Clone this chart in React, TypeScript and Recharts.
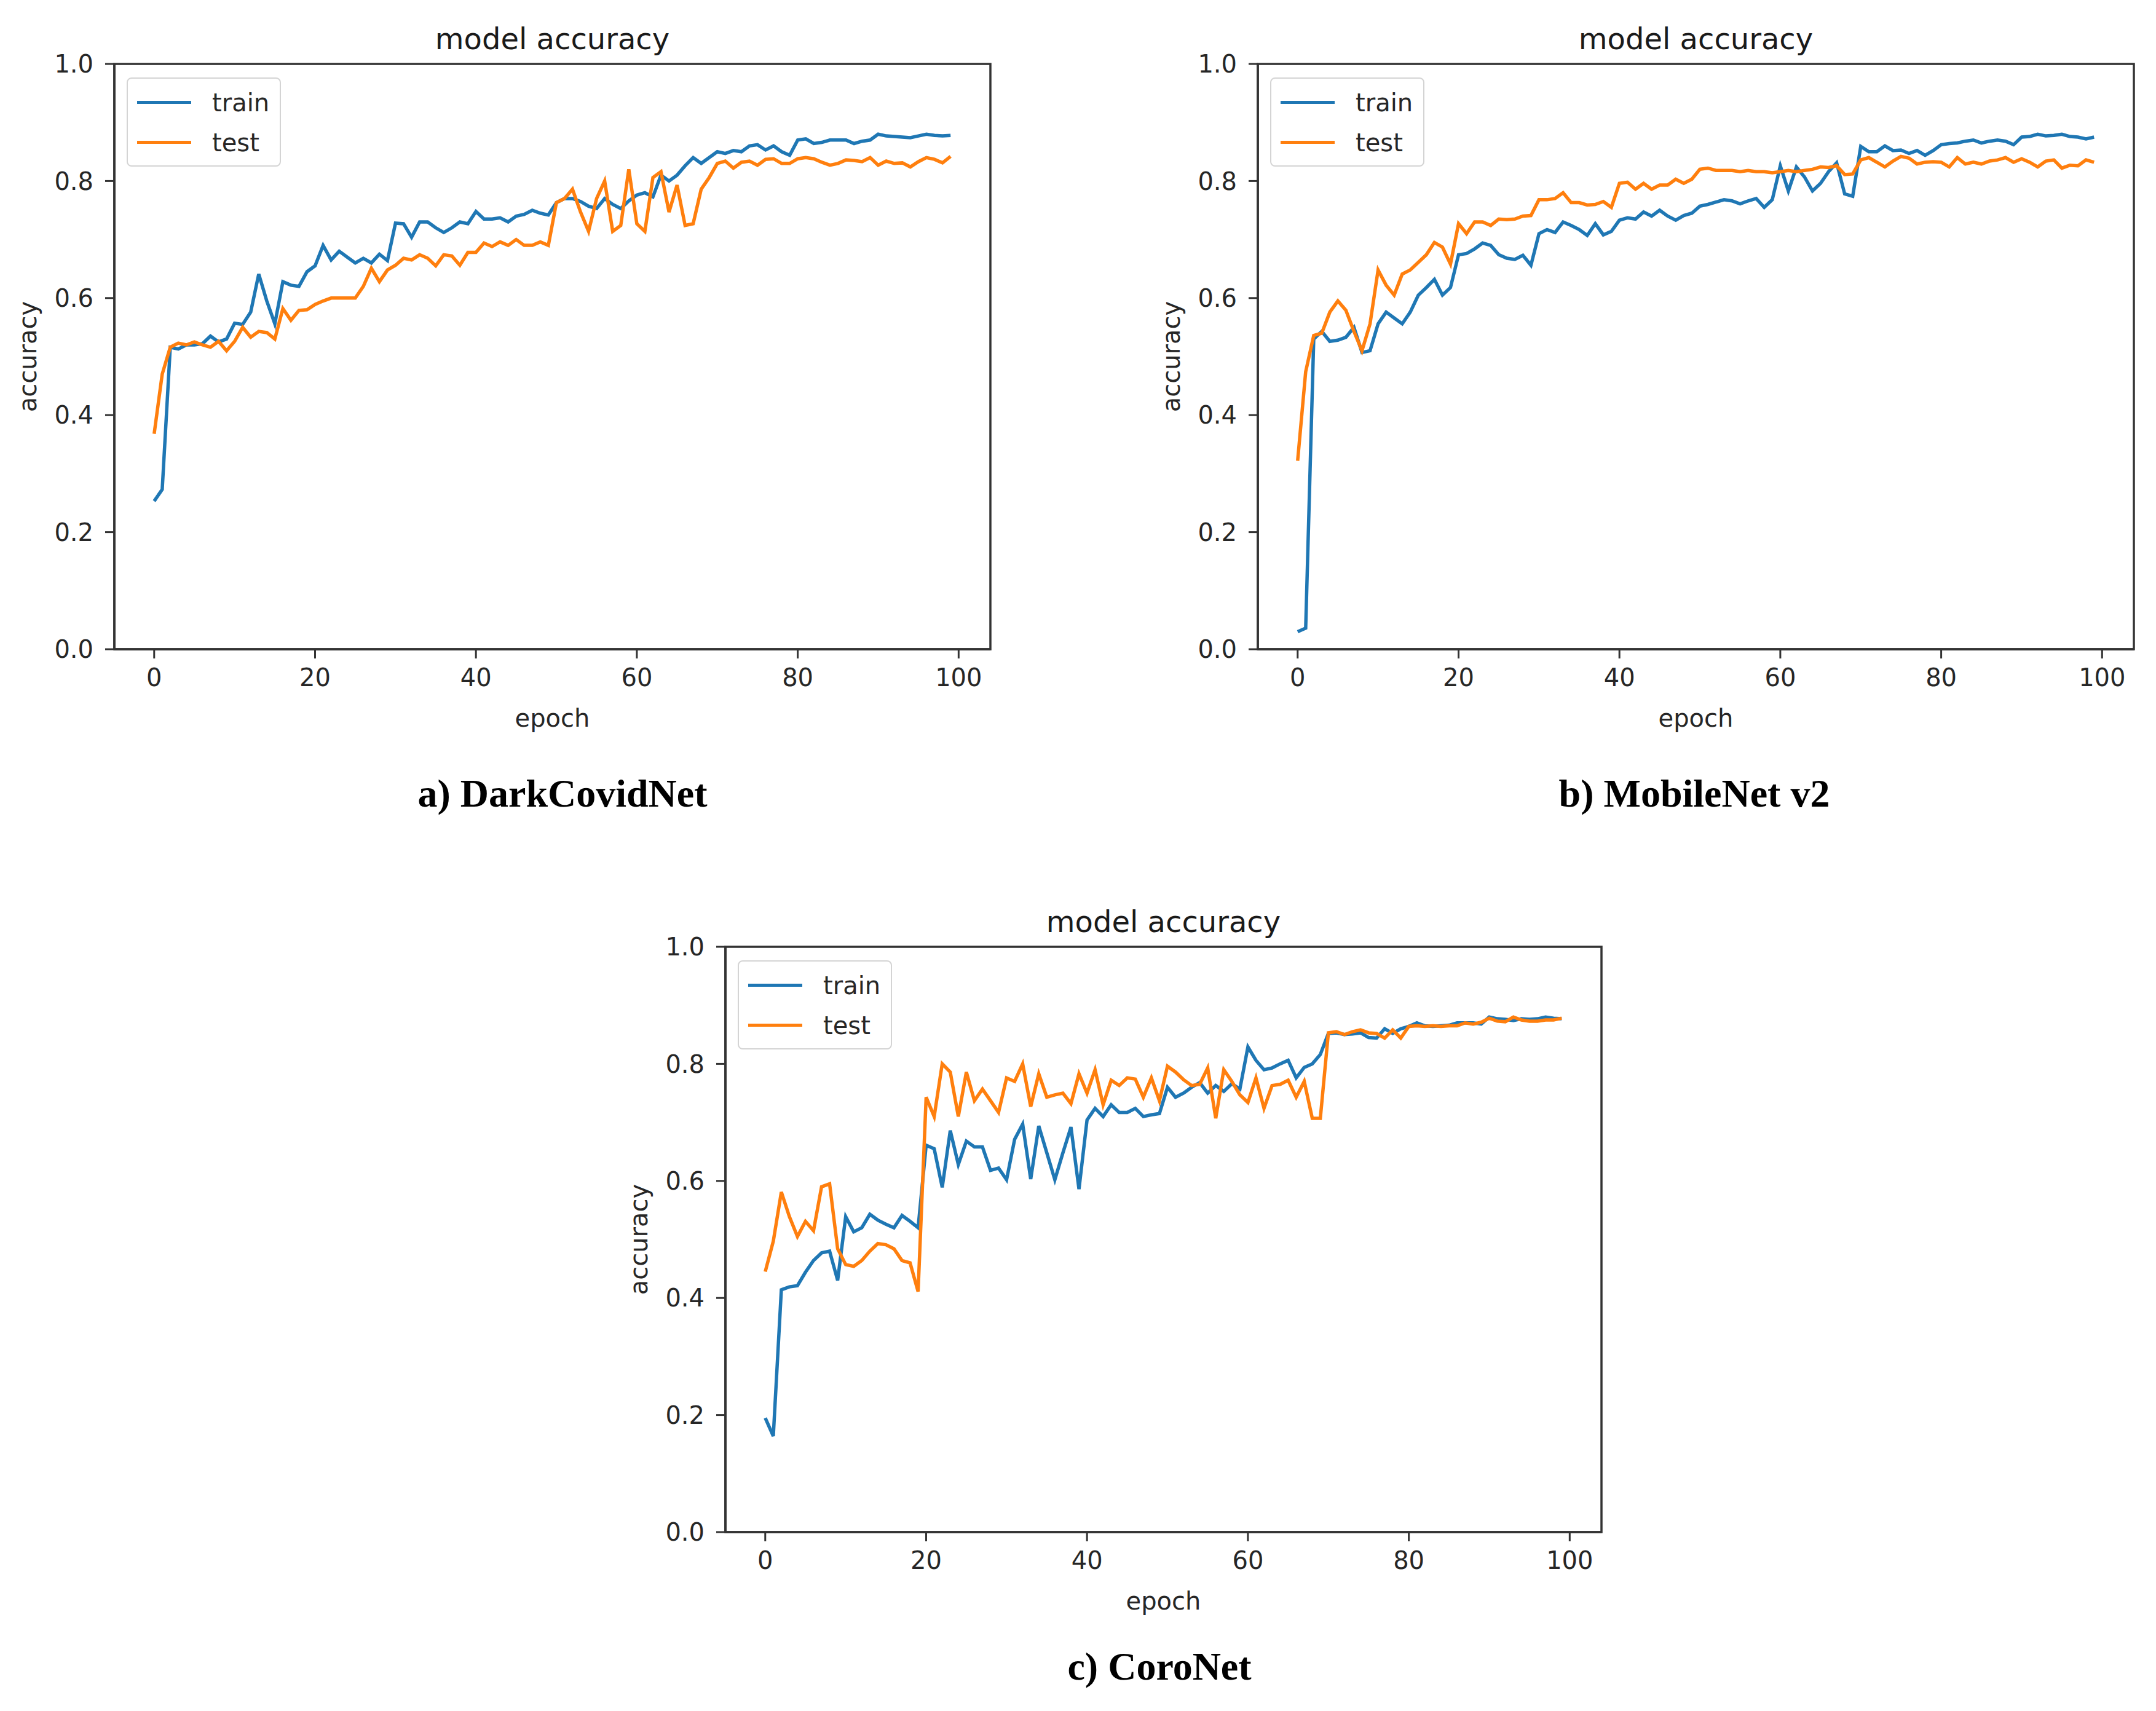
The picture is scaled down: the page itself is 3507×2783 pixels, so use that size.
import { Legend, Line, LineChart, ReferenceArea, XAxis, YAxis } from "recharts";

// three "model accuracy" panels, 100 epochs each
const epochs = Array.from({ length: 100 }, (_, i) => i);
const xTicks = [0, 20, 40, 60, 80, 100];
const yTicks = [0, 0.2, 0.4, 0.6, 0.8, 1.0];
const seriesOrder = ["train", "test"];

const darkCovidTrain = [
  0.253, 0.273, 0.516, 0.513, 0.52, 0.52, 0.522, 0.535, 0.525, 0.53,
  0.557, 0.555, 0.576, 0.641, 0.595, 0.556, 0.628, 0.622, 0.62, 0.645,
  0.655, 0.69, 0.665, 0.68, 0.67, 0.66, 0.668, 0.66, 0.675, 0.664,
  0.728, 0.727, 0.704, 0.73, 0.73, 0.72, 0.712, 0.72, 0.73, 0.727,
  0.748, 0.735, 0.735, 0.737, 0.73, 0.74, 0.743, 0.75, 0.745, 0.742,
  0.763, 0.77, 0.77, 0.765, 0.757, 0.753, 0.77, 0.76, 0.753, 0.766,
  0.776, 0.78, 0.773, 0.81, 0.8, 0.81, 0.826, 0.84, 0.83, 0.84,
  0.85, 0.847, 0.852, 0.85, 0.86, 0.862, 0.853, 0.86, 0.85, 0.844,
  0.87, 0.872, 0.864, 0.866, 0.87, 0.87, 0.87, 0.864, 0.868, 0.87,
  0.88, 0.877, 0.876, 0.875, 0.874, 0.877, 0.88, 0.878, 0.877, 0.878,
];
const darkCovidTest = [
  0.368, 0.47, 0.516, 0.523, 0.52, 0.525, 0.52, 0.516, 0.526, 0.51,
  0.526, 0.55, 0.533, 0.543, 0.541, 0.53, 0.582, 0.562, 0.579, 0.58,
  0.589, 0.595, 0.6, 0.6, 0.6, 0.6, 0.62, 0.651, 0.628, 0.648,
  0.656, 0.668, 0.665, 0.674, 0.668, 0.655, 0.674, 0.672, 0.656, 0.678,
  0.678, 0.694, 0.688, 0.696, 0.69, 0.7, 0.69, 0.69, 0.696, 0.69,
  0.763, 0.77, 0.786, 0.747, 0.714, 0.77, 0.8, 0.714, 0.724, 0.82,
  0.727, 0.714, 0.806, 0.816, 0.747, 0.793, 0.724, 0.727, 0.786, 0.806,
  0.83, 0.834, 0.822, 0.832, 0.834, 0.827, 0.837, 0.838, 0.83, 0.83,
  0.838, 0.84, 0.838, 0.832, 0.827, 0.83, 0.836, 0.835, 0.833, 0.84,
  0.827, 0.834, 0.83, 0.831, 0.824, 0.833, 0.84, 0.837, 0.831, 0.842,
];

const mobileNetTrain = [
  0.03, 0.036, 0.53, 0.543, 0.526, 0.528, 0.533, 0.55, 0.507, 0.51,
  0.556, 0.576, 0.566, 0.556, 0.576, 0.605, 0.618, 0.632, 0.605, 0.618,
  0.674, 0.676, 0.684, 0.694, 0.69, 0.674, 0.668, 0.666, 0.673, 0.656,
  0.71, 0.717, 0.712, 0.73, 0.724, 0.717, 0.707, 0.727, 0.708, 0.714,
  0.733, 0.737, 0.735, 0.747, 0.74, 0.75, 0.74, 0.733, 0.741, 0.745,
  0.757, 0.76, 0.764, 0.768, 0.766, 0.761, 0.766, 0.77, 0.755, 0.768,
  0.826, 0.783, 0.824, 0.807, 0.783, 0.796, 0.816, 0.831, 0.778, 0.774,
  0.859, 0.85, 0.85, 0.86, 0.852, 0.853, 0.847, 0.852, 0.844, 0.852,
  0.862, 0.864, 0.865, 0.868, 0.87, 0.865, 0.868, 0.87, 0.868, 0.862,
  0.875, 0.876, 0.88, 0.877, 0.878, 0.88, 0.876, 0.875, 0.872, 0.875,
];
const mobileNetTest = [
  0.322, 0.474, 0.536, 0.54, 0.576, 0.595, 0.579, 0.543, 0.51, 0.556,
  0.648, 0.622, 0.605, 0.641, 0.648, 0.661, 0.674, 0.695, 0.687, 0.658,
  0.727, 0.71, 0.73, 0.73, 0.724, 0.735, 0.734, 0.735, 0.74, 0.741,
  0.768, 0.768, 0.77, 0.78, 0.763, 0.763, 0.759, 0.76, 0.765, 0.755,
  0.796, 0.798, 0.786, 0.796, 0.786, 0.793, 0.793, 0.803, 0.796, 0.803,
  0.82, 0.822, 0.818, 0.818, 0.818, 0.816, 0.818, 0.816, 0.816, 0.814,
  0.816, 0.818, 0.816, 0.818, 0.82, 0.824, 0.823, 0.826, 0.811, 0.812,
  0.836, 0.84, 0.832, 0.824, 0.834, 0.842, 0.839, 0.829, 0.832, 0.833,
  0.832, 0.824, 0.84, 0.829, 0.832, 0.829, 0.834, 0.836, 0.84, 0.832,
  0.838, 0.832, 0.824, 0.834, 0.836, 0.822, 0.827, 0.826, 0.836, 0.832,
];

const coroNetTrain = [
  0.195, 0.164, 0.414, 0.419, 0.421, 0.444, 0.464, 0.477, 0.48, 0.43,
  0.539, 0.513, 0.52, 0.543, 0.533, 0.526, 0.52, 0.541, 0.531, 0.52,
  0.661, 0.655, 0.589, 0.686, 0.628, 0.668, 0.658, 0.658, 0.618, 0.622,
  0.602, 0.671, 0.697, 0.603, 0.694, 0.648, 0.602, 0.648, 0.692, 0.586,
  0.704, 0.724, 0.71, 0.73, 0.717, 0.717, 0.724, 0.71, 0.713, 0.715,
  0.76, 0.743, 0.75, 0.76, 0.768, 0.75, 0.763, 0.753, 0.766, 0.757,
  0.829, 0.806, 0.79, 0.793, 0.8, 0.806, 0.776, 0.794, 0.8, 0.816,
  0.852, 0.853, 0.85, 0.851, 0.853, 0.845, 0.844, 0.86, 0.852, 0.86,
  0.864, 0.87, 0.865, 0.864, 0.865, 0.866, 0.87, 0.87, 0.87, 0.868,
  0.88, 0.877, 0.876, 0.874, 0.877, 0.876, 0.877, 0.88, 0.878, 0.877,
];
const coroNetTest = [
  0.445, 0.497, 0.581, 0.539, 0.505, 0.531, 0.515, 0.59, 0.595, 0.484,
  0.457, 0.454, 0.464, 0.48, 0.493, 0.491, 0.484, 0.464, 0.46, 0.411,
  0.743, 0.71, 0.8, 0.786, 0.71, 0.786, 0.737, 0.757, 0.737, 0.717,
  0.776, 0.77, 0.8, 0.727, 0.783, 0.743, 0.747, 0.75, 0.732, 0.783,
  0.75, 0.79, 0.73, 0.772, 0.763, 0.776, 0.774, 0.743, 0.776, 0.737,
  0.796, 0.786, 0.773, 0.763, 0.765, 0.793, 0.707, 0.79, 0.77, 0.747,
  0.734, 0.776, 0.724, 0.763, 0.765, 0.772, 0.743, 0.77, 0.707, 0.707,
  0.853, 0.855, 0.85, 0.855, 0.858, 0.853, 0.852, 0.844, 0.858, 0.844,
  0.864, 0.865, 0.864, 0.865, 0.864, 0.865, 0.865, 0.87, 0.868, 0.871,
  0.878, 0.873, 0.872, 0.88, 0.875, 0.873, 0.873, 0.875, 0.875, 0.878,
];

const BLUE = "#1f77b4";
const ORANGE = "#ff7f0e";
const FRAME = "#333333";
const INK = "#262626";
const SANS = '"DejaVu Sans", sans-serif';
const X_DOMAIN: [number, number] = [-4.95, 103.95];

const PLOT_W = 1425;
const PLOT_H = 952;
const Y_AXIS_W = 186;
const X_AXIS_H = 144;
const MARGIN_TOP = 104;
const MARGIN_RIGHT = 60;

const tickStyle = { fill: INK, fontSize: 40, fontFamily: SANS };

function LegendBox({ payload }: any) {
  const items = [...(payload || [])].sort(
    (a: any, b: any) => seriesOrder.indexOf(a.value) - seriesOrder.indexOf(b.value)
  );
  return (
    <div
      style={{
        width: 251,
        height: 145,
        boxSizing: "border-box",
        border: "2px solid #d4d4d4",
        borderRadius: 8,
        background: "rgba(255,255,255,0.85)",
        paddingTop: 6,
        paddingLeft: 15,
      }}
    >
      {items.map((entry: any) => (
        <div key={entry.value} style={{ display: "flex", alignItems: "center", height: 65 }}>
          <div style={{ width: 88, height: 5, background: entry.color, marginRight: 34 }} />
          <span style={{ font: `40px ${SANS}`, color: INK }}>{entry.value}</span>
        </div>
      ))}
    </div>
  );
}

function AccuracyPanel({
  left,
  top,
  train,
  test,
  caption,
  captionX,
  captionY,
}: {
  left: number;
  top: number;
  train: number[];
  test: number[];
  caption: string;
  captionX: number;
  captionY: number;
}) {
  const rows = epochs.map((epoch, i) => ({ epoch, train: train[i], test: test[i] }));
  return (
    <>
      <div
        style={{
          position: "absolute",
          left,
          top: top - 24 - 41,
          width: PLOT_W,
          textAlign: "center",
          font: `48px ${SANS}`,
          lineHeight: "48px",
          color: "#1a1a1a",
        }}
      >
        model accuracy
      </div>
      <div style={{ position: "absolute", left: left - Y_AXIS_W, top: top - MARGIN_TOP }}>
        <LineChart
          width={Y_AXIS_W + PLOT_W + MARGIN_RIGHT}
          height={MARGIN_TOP + PLOT_H + X_AXIS_H}
          data={rows}
          margin={{ top: MARGIN_TOP, right: MARGIN_RIGHT, bottom: 0, left: 0 }}
        >
          <XAxis
            dataKey="epoch"
            type="number"
            domain={X_DOMAIN}
            ticks={xTicks}
            allowDataOverflow
            height={X_AXIS_H}
            tickSize={15}
            tickMargin={17}
            tick={tickStyle}
            axisLine={{ stroke: FRAME, strokeWidth: 3.5 }}
            tickLine={{ stroke: FRAME, strokeWidth: 3 }}
            label={{
              content: ({ viewBox }: any) => (
                <text
                  x={viewBox.x + viewBox.width / 2}
                  y={viewBox.y + 112}
                  textAnchor="middle"
                  dominantBaseline="central"
                  fill={INK}
                  fontSize={40}
                  fontFamily={SANS}
                >
                  epoch
                </text>
              ),
            }}
          />
          <YAxis
            type="number"
            domain={[0, 1]}
            ticks={yTicks}
            width={Y_AXIS_W}
            tickSize={15}
            tickMargin={19}
            tick={tickStyle}
            tickFormatter={(v: number) => v.toFixed(1)}
            axisLine={{ stroke: FRAME, strokeWidth: 3.5 }}
            tickLine={{ stroke: FRAME, strokeWidth: 3 }}
            label={{
              content: ({ viewBox }: any) => {
                const cx = viewBox.x + viewBox.width - 141;
                const cy = viewBox.y + viewBox.height / 2;
                return (
                  <text
                    x={cx}
                    y={cy}
                    transform={`rotate(-90, ${cx}, ${cy})`}
                    textAnchor="middle"
                    dominantBaseline="central"
                    fill={INK}
                    fontSize={40}
                    fontFamily={SANS}
                  >
                    accuracy
                  </text>
                );
              },
            }}
          />
          {/* full axes frame, as matplotlib draws it */}
          <ReferenceArea
            x1={X_DOMAIN[0]}
            x2={X_DOMAIN[1]}
            y1={0}
            y2={1}
            fill="none"
            stroke={FRAME}
            strokeWidth={3.5}
            ifOverflow="visible"
          />
          <Legend
            layout="horizontal"
            verticalAlign="middle"
            align="center"
            content={<LegendBox />}
            wrapperStyle={{ left: Y_AXIS_W + 20, top: MARGIN_TOP + 22, width: "auto", height: "auto" }}
          />
          <Line
            type="linear"
            dataKey="train"
            name="train"
            stroke={BLUE}
            strokeWidth={5.5}
            dot={false}
            isAnimationActive={false}
          />
          <Line
            type="linear"
            dataKey="test"
            name="test"
            stroke={ORANGE}
            strokeWidth={5.5}
            dot={false}
            isAnimationActive={false}
          />
        </LineChart>
      </div>
      <div
        style={{
          position: "absolute",
          left: captionX - 500,
          top: captionY - 32,
          width: 1000,
          textAlign: "center",
          font: 'bold 64px "Liberation Serif", "Times New Roman", serif',
          lineHeight: "64px",
          color: "#000",
        }}
      >
        {caption}
      </div>
    </>
  );
}

export default function App() {
  return (
    <div
      style={{
        position: "absolute",
        left: 0,
        top: 0,
        width: 3507,
        height: 2783,
        background: "#ffffff",
        overflow: "hidden",
      }}
    >
      <AccuracyPanel
        left={186}
        top={104}
        train={darkCovidTrain}
        test={darkCovidTest}
        caption="a) DarkCovidNet"
        captionX={915}
        captionY={1291}
      />
      <AccuracyPanel
        left={2046}
        top={104}
        train={mobileNetTrain}
        test={mobileNetTest}
        caption="b) MobileNet v2"
        captionX={2756}
        captionY={1291}
      />
      <AccuracyPanel
        left={1180}
        top={1540}
        train={coroNetTrain}
        test={coroNetTest}
        caption="c) CoroNet"
        captionX={1886}
        captionY={2711}
      />
    </div>
  );
}
